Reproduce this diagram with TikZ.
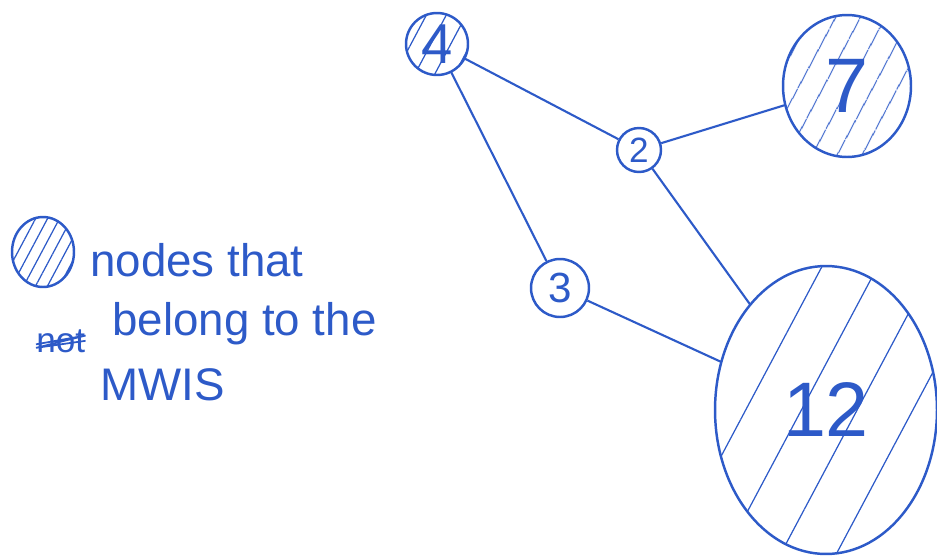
\documentclass[tikz,border=0pt]{standalone}
\usepackage{fontspec}
\setmainfont{Liberation Sans}
\usepackage{tikz}
\usetikzlibrary{
    shapes.geometric,
    patterns.meta
}
\definecolor{tinta}{RGB}{45,90,200}
\tikzset{
    nodo/.style={
        ellipse,
        draw=tinta,
        line width=1.4pt,
        inner sep=0pt,
        text=tinta
    },
    marcado/.style={
        pattern={Lines[angle=62,distance=#1,line width=0.7pt]},
        pattern color=tinta
    },
    marcado/.default=12pt,
    arista/.style={
        draw=tinta,
        line width=1.2pt
    },
    nota/.style={
        text=tinta,
        anchor=base west,
        inner sep=0pt,
        font=\fontsize{26}{30}\selectfont
    }
}

\begin{document}
\begin{tikzpicture}[
    x=0.02cm,
    y=-0.02cm
]
    \useasboundingbox (0,0) rectangle (937,555);

    % Nodos
    \node[nodo, marcado=10pt, minimum width=1.24cm, minimum height=1.24cm,
          font=\fontsize{32}{32}\selectfont]           (n4)  at (437,44)  {4};
    \node[nodo, marcado=13pt, minimum width=2.56cm, minimum height=2.84cm,
          font=\fontsize{44}{44}\selectfont]           (n7)  at (847,86)  {7};
    \node[nodo, minimum size=0.88cm,
          font=\fontsize{20}{20}\selectfont]           (n2)  at (639,150) {2};
    \node[nodo, minimum size=1.16cm,
          font=\fontsize{24}{24}\selectfont]           (n3)  at (560,288) {3};
    \node[nodo, marcado=28pt, minimum width=4.44cm, minimum height=5.76cm,
          font=\fontsize{44}{44}\selectfont]           (n12) at (826,410) {12};

    % Aristas
    \path[arista]
        (n4)
            edge (n2)
            edge (n3)
        (n2)
            edge (n7)
            edge (n12)
        (n3)
            edge (n12);

    % Leyenda
    \node[nodo, marcado=6pt, minimum width=1.24cm, minimum height=1.4cm]
        (leyenda) at (43,252) {};
    \node[nota] (linea1) at (90,276)  {nodes that};
    \node[nota, font=\fontsize{20}{22}\selectfont]
                (tachado) at (36,352) {not};
    \node[nota] (linea2) at (112,335) {belong to the};
    \node[nota] (linea3) at (100,400) {MWIS};

    \draw[arista, line width=1pt]
        ([yshift=-2pt]tachado.west) -- ([yshift=3pt]tachado.east)
        -- ([yshift=-4pt]tachado.west) -- ([yshift=0pt]tachado.east);

\end{tikzpicture}
\end{document}
